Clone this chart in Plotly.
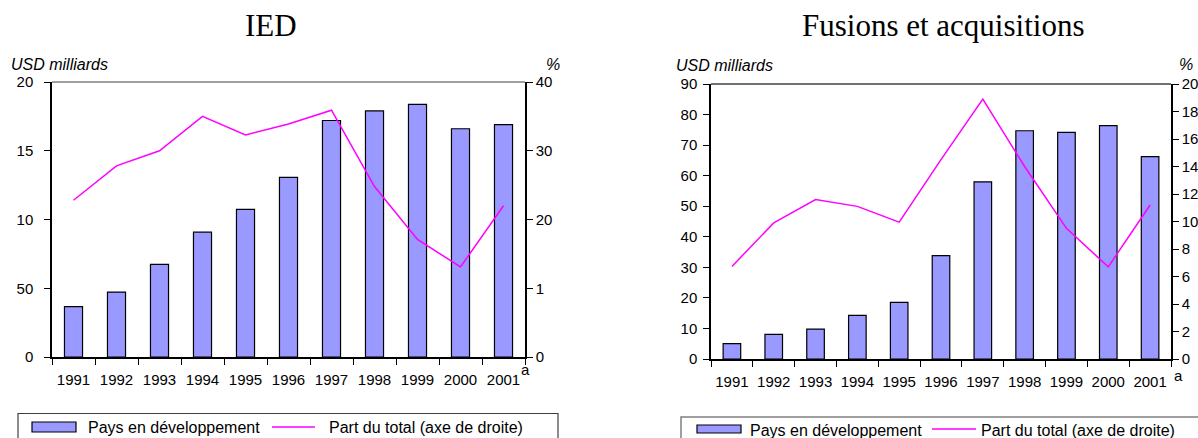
import plotly.graph_objects as go

W, H = 1198, 438

years = ["1991", "1992", "1993", "1994", "1995", "1996", "1997", "1998", "1999", "2000", "2001"]

# IED (left chart)
ied_bars = [3.66, 4.72, 6.73, 9.08, 10.73, 13.07, 17.2, 17.9, 18.38, 16.6, 16.9]
ied_share = [22.8, 27.8, 30.0, 35.0, 32.3, 33.9, 35.9, 24.8, 17.1, 13.1, 22.0]
ied_left_ticks = [0, 5, 10, 15, 20]
ied_left_text = ["0", "50", "10", "15", "20"]
ied_right_ticks = [0, 10, 20, 30, 40]
ied_right_text = ["0", "1", "20", "30", "40"]

# Fusions et acquisitions (right chart)
fa_bars = [5.0, 8.06, 9.8, 14.3, 18.5, 33.8, 58.0, 74.7, 74.2, 76.4, 66.2]
fa_share = [6.73, 9.9, 11.6, 11.1, 9.95, 14.5, 18.9, 14.0, 9.5, 6.7, 11.2]
fa_left_ticks = [0, 10, 20, 30, 40, 50, 60, 70, 80, 90]
fa_right_ticks = [0, 2, 4, 6, 8, 10, 12, 14, 16, 18, 20]

titles = ["IED", "Fusions et acquisitions"]
unit_left = "USD milliards"
unit_right = "%"
legend_bar = "Pays en développement"
legend_line = "Part du total (axe de droite)"
footnote = "a"

BAR = "#9999FF"
LINE = "#FF00FF"
SANS = "Liberation Sans, Arial, sans-serif"
SERIF = "Liberation Serif, Times New Roman, serif"


def px(x):
    return x / W


def py(y):
    return 1 - y / H


fig = go.Figure()

fig.add_trace(go.Bar(x=years, y=ied_bars, xaxis="x", yaxis="y", width=0.42,
                     marker=dict(color=BAR, line=dict(color="black", width=1.2)),
                     showlegend=False))
fig.add_trace(go.Scatter(x=years, y=ied_share, xaxis="x", yaxis="y2", mode="lines",
                         line=dict(color=LINE, width=1.5), showlegend=False))
fig.add_trace(go.Bar(x=years, y=fa_bars, xaxis="x2", yaxis="y3", width=0.42,
                     marker=dict(color=BAR, line=dict(color="black", width=1.2)),
                     showlegend=False))
fig.add_trace(go.Scatter(x=years, y=fa_share, xaxis="x2", yaxis="y4", mode="lines",
                         line=dict(color=LINE, width=1.5), showlegend=False))

tickfont = dict(family=SANS, size=15, color="black")
axcommon = dict(showgrid=False, zeroline=False, showline=True, linecolor="black",
                linewidth=1.5, ticks="outside", ticklen=6, tickcolor="black",
                tickwidth=1.2, tickfont=tickfont, automargin=False, fixedrange=True)

L = dict(x0=52, x1=525, y0=82, y1=357)
R = dict(x0=711, x1=1171, y0=84, y1=359)

fig.update_layout(
    width=W, height=H, margin=dict(l=0, r=0, t=0, b=0), autosize=False,
    paper_bgcolor="white", plot_bgcolor="white", template="none",
    showlegend=False, bargap=0.58,
    xaxis=dict(domain=[px(L["x0"]), px(L["x1"])], anchor="y", type="category",
               tickson="boundaries", tickangle=0, ticklabelstandoff=8, **axcommon),
    yaxis=dict(domain=[py(L["y1"]), py(L["y0"])], anchor="x", range=[0, 20],
               tickmode="array", tickvals=ied_left_ticks, ticktext=ied_left_text,
               ticklabelstandoff=8, **axcommon),
    yaxis2=dict(overlaying="y", side="right", anchor="x", range=[0, 40],
                tickmode="array", tickvals=ied_right_ticks, ticktext=ied_right_text,
                **axcommon),
    xaxis2=dict(domain=[px(R["x0"]), px(R["x1"])], anchor="y3", type="category",
                tickson="boundaries", tickangle=0, ticklabelstandoff=8, **axcommon),
    yaxis3=dict(domain=[py(R["y1"]), py(R["y0"])], anchor="x2", range=[0, 90],
                tickmode="array", tickvals=fa_left_ticks, ticklabelstandoff=3,
                **axcommon),
    yaxis4=dict(overlaying="y3", side="right", anchor="x2", range=[0, 20],
                tickmode="array", tickvals=fa_right_ticks, **axcommon),
)

shapes = [
    # top borders of plot areas
    dict(type="line", xref="paper", yref="paper", x0=px(L["x0"]), x1=px(L["x1"]),
         y0=py(L["y0"]), y1=py(L["y0"]), line=dict(color="#808080", width=1.5)),
    dict(type="line", xref="paper", yref="paper", x0=px(R["x0"]), x1=px(R["x1"]),
         y0=py(R["y0"]), y1=py(R["y0"]), line=dict(color="#404040", width=1.5)),
    # legend boxes
    dict(type="rect", xref="paper", yref="paper", x0=px(18), x1=px(558),
         y0=py(450), y1=py(413.5), line=dict(color="#404040", width=1.2)),
    dict(type="rect", xref="paper", yref="paper", x0=px(681), x1=px(1230),
         y0=py(450), y1=py(417), line=dict(color="#808080", width=1.5)),
    # legend swatches
    dict(type="rect", xref="paper", yref="paper", x0=px(32), x1=px(76),
         y0=py(432), y1=py(422), fillcolor=BAR, line=dict(color="black", width=1.2)),
    dict(type="line", xref="paper", yref="paper", x0=px(272), x1=px(315),
         y0=py(427), y1=py(427), line=dict(color=LINE, width=1.5)),
    dict(type="rect", xref="paper", yref="paper", x0=px(697), x1=px(741),
         y0=py(433), y1=py(425), fillcolor=BAR, line=dict(color="black", width=1.2)),
    dict(type="line", xref="paper", yref="paper", x0=px(932), x1=px(976),
         y0=py(429), y1=py(429), line=dict(color=LINE, width=1.5)),
]
fig.update_layout(shapes=shapes)


def ann(text, x, y, size=16, family=SANS, xanchor="left", italic=False):
    return dict(text=text, x=px(x), y=py(y), xref="paper", yref="paper",
                xanchor=xanchor, yanchor="middle", showarrow=False,
                font=dict(family=family, size=size, color="black",
                          style="italic" if italic else "normal"))


annotations = [
    ann(titles[0], 271, 26, size=31, family=SERIF, xanchor="center"),
    ann(titles[1], 943, 26, size=31, family=SERIF, xanchor="center"),
    ann(unit_left, 9, 64, italic=True),
    ann(unit_left, 674, 66, italic=True),
    ann(unit_right, 544, 64, italic=True),
    ann(unit_right, 1177, 65, italic=True),
    ann(footnote, 519, 369, size=15),
    ann(footnote, 1172, 375, size=15),
    ann(legend_bar, 86, 427),
    ann(legend_line, 327, 427),
    ann(legend_bar, 748, 430),
    ann(legend_line, 979, 430),
]
fig.update_layout(annotations=annotations)

fig.write_html("out.html")
